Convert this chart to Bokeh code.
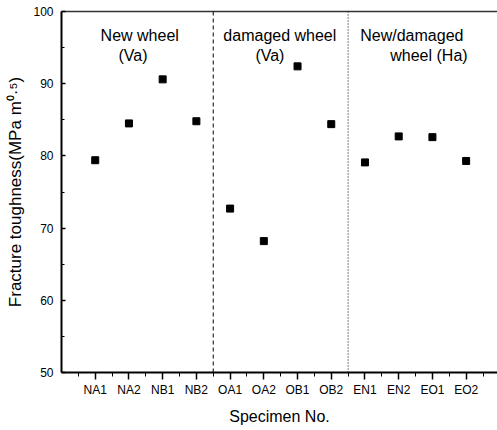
from bokeh.plotting import figure
from bokeh.models import Range1d, FixedTicker, Span, LinearAxis
from bokeh.embed import file_html
from bokeh.resources import INLINE
from bokeh.core.properties import value

specimens = ["NA1", "NA2", "NB1", "NB2", "OA1", "OA2", "OB1", "OB2",
             "EN1", "EN2", "EO1", "EO2"]
toughness = [79.4, 84.5, 90.6, 84.8, 72.7, 68.2, 92.4, 84.4,
             79.1, 82.7, 82.6, 79.3]
y_ticks = [50, 60, 70, 80, 90, 100]
y_minor = [55, 65, 75, 85, 95]
group_labels = ["New wheel", "(Va)", "damaged wheel", "(Va)",
                "New/damaged", "wheel  (Ha)"]
x_title = "Specimen No."
y_title = "Fracture toughness(MPa m\u2070\u00b7\u2075)"

FONT = "Liberation Sans"
positions = list(range(1, len(specimens) + 1))

p = figure(width=497, height=430,
           x_range=Range1d(0, 12.93), y_range=Range1d(50, 100),
           output_backend="svg", toolbar_location=None,
           min_border_left=61, min_border_right=0,
           min_border_top=11, min_border_bottom=58)
p.outline_line_color = None
p.grid.visible = False
p.background_fill_color = "white"

# x axis
xa = p.xaxis[0]
xa.ticker = FixedTicker(ticks=positions,
                        minor_ticks=[i + 0.5 for i in range(0, 13)])
xa.major_label_overrides = {i: s for i, s in zip(positions, specimens)}
xa.major_tick_in = 0
xa.major_tick_out = 7
xa.minor_tick_in = 0
xa.minor_tick_out = 4
xa.axis_line_width = 2
xa.major_tick_line_width = 1.5
xa.major_label_text_font = FONT
xa.major_label_text_font_size = "12px"
xa.major_label_text_color = "black"
xa.major_label_standoff = 3
xa.axis_label = x_title
xa.axis_label_text_font = FONT
xa.axis_label_text_font_size = "16px"
xa.axis_label_text_font_style = "normal"
xa.axis_label_text_color = "black"
xa.axis_label_standoff = 8

# y axis
ya = p.yaxis[0]
ya.ticker = FixedTicker(ticks=y_ticks, minor_ticks=y_minor)
ya.major_tick_in = 4
ya.major_tick_out = 0
ya.minor_tick_in = 3
ya.minor_tick_out = 0
ya.axis_line_width = 2
ya.major_tick_line_width = 1.5
ya.major_label_text_font = FONT
ya.major_label_text_font_size = "12px"
ya.major_label_text_color = "black"
ya.major_label_standoff = 8
ya.axis_label = y_title
ya.axis_label_text_font = FONT
ya.axis_label_text_font_size = "17px"
ya.axis_label_text_font_style = "normal"
ya.axis_label_text_color = "black"
ya.axis_label_standoff = 5

# top border line
top = LinearAxis(ticker=FixedTicker(ticks=[]))
top.major_tick_line_color = None
top.minor_tick_line_color = None
top.major_label_standoff = 0
top.axis_line_width = 1.5
top.axis_line_color = "#333333"
p.add_layout(top, "above")

# group dividers
p.add_layout(Span(location=4.5, dimension="height", line_color="black",
                  line_width=1, line_dash="4 3"))
p.add_layout(Span(location=8.5, dimension="height", line_color="black",
                  line_width=1, line_dash="1 2"))

# data
p.scatter(positions, toughness, marker="square", size=7,
          fill_color="black", line_color="black")

# group annotations
p.text(x=[1.16, 1.69, 4.80, 5.75, 8.86, 9.75],
       y=[96.68, 93.9, 96.68, 93.9, 96.68, 93.9],
       text=group_labels, text_font=value(FONT), text_font_size="16px",
       text_color="black", text_align="left", text_baseline="alphabetic")

open("out.html", "w").write(file_html(p, INLINE))
